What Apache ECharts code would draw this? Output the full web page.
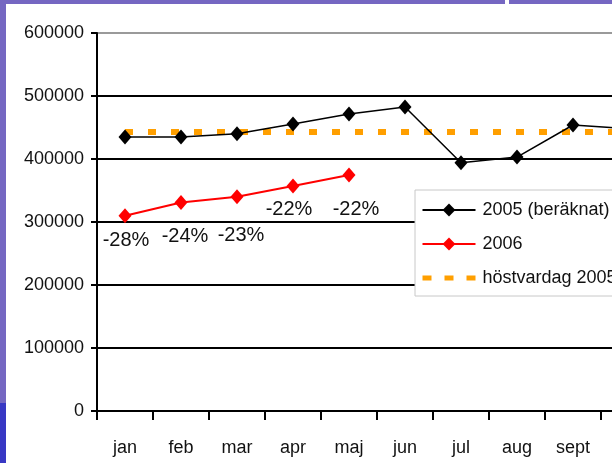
<!DOCTYPE html>
<html>
<head>
<meta charset="utf-8">
<script src="https://cdn.jsdelivr.net/npm/echarts@6/dist/echarts.min.js"></script>
<style>
  html, body { margin: 0; padding: 0; background: #fff; overflow: hidden; }
  #chart { width: 800px; height: 463px; }
</style>
</head>
<body>
<div id="chart"></div>
<script>
// months on the x axis (chart is cut off on the right in the original)
const months = ["jan", "feb", "mar", "apr", "maj", "jun", "jul", "aug", "sept", "okt", "nov", "dec"];
const values2005 = [435000, 435000, 440000, 455500, 471500, 482500, 394000, 403000, 454000, 448000, null, null];
const values2006 = [310000, 331000, 340000, 357000, 374500];
const autumnLevel = [443000, 443000, 443000, 443000, 443000, 443000, 443000, 443000, 443000, 443000, 443000, 443000];
const changeLabels = ["-28%", "-24%", "-23%", "-22%", "-22%"];
const yTicks = [0, 100000, 200000, 300000, 400000, 500000, 600000];

// where each % label sits relative to its point
const labelOffsets = [[1, 25], [4, 34], [4, 39], [-4, 23], [7, 34]];

const font = "'Liberation Sans', Arial, sans-serif";

const redData = values2006.map((v, i) => ({
  value: v,
  label: {
    show: true,
    position: "inside",
    offset: labelOffsets[i],
    formatter: changeLabels[i],
    color: "#111",
    fontSize: 20,
    fontFamily: font
  }
}));

const chart = echarts.init(document.querySelector("#chart"));

chart.setOption({
  animation: false,
  backgroundColor: "#fff",
  graphic: [
    { type: "rect", shape: { x: 0, y: 0, width: 505, height: 4 }, style: { fill: "#7567c2" } },
    { type: "rect", shape: { x: 509, y: 0, width: 300, height: 4 }, style: { fill: "#7567c2" } },
    { type: "rect", shape: { x: 0, y: 0, width: 6, height: 403 }, style: { fill: "#7567c2" } },
    { type: "rect", shape: { x: 0, y: 403, width: 6, height: 60 }, style: { fill: "#3838c4" } }
  ],
  grid: { left: 97, right: 31, top: 33, bottom: 52 },
  legend: {
    orient: "vertical",
    left: 415,
    top: 190,
    padding: [11, 8, 9, 5],
    itemWidth: 53,
    itemHeight: 16,
    itemGap: 16,
    backgroundColor: "#fff",
    borderColor: "#c8c8c8",
    borderWidth: 1,
    borderRadius: 0,
    data: [
      "2005 (beräknat)",
      "2006",
      {
        name: "höstvardag 2005",
        itemStyle: { opacity: 0 },
        lineStyle: { width: 5, type: [9, 13] }
      }
    ],
    textStyle: { fontSize: 18, fontFamily: font, color: "#111", padding: [0, 0, 0, 2] }
  },
  xAxis: {
    type: "category",
    data: months,
    boundaryGap: true,
    axisLine: { lineStyle: { color: "#000", width: 2 } },
    axisTick: { show: true, length: 9, lineStyle: { color: "#000", width: 2 } },
    axisLabel: { color: "#111", fontSize: 18, fontFamily: font, margin: 28 },
    splitLine: { show: false }
  },
  yAxis: {
    type: "value",
    min: 0,
    max: 600000,
    interval: 100000,
    axisLine: { show: true, lineStyle: { color: "#000", width: 2 } },
    axisTick: { show: true, length: 6, lineStyle: { color: "#000", width: 2 } },
    axisLabel: {
      color: "#111", fontSize: 18, fontFamily: font, margin: 13,
      formatter: v => yTicks.includes(v) ? String(v) : ""
    },
    splitLine: {
      show: true,
      lineStyle: { color: ["#000", "#000", "#000", "#000", "#000", "#000", "#9a9a9a"], width: 2 }
    }
  },
  series: [
    {
      name: "höstvardag 2005",
      type: "line",
      data: autumnLevel,
      showSymbol: false,
      symbol: "none",
      z: 1,
      itemStyle: { color: "#ff9f00" },
      lineStyle: { color: "#ff9f00", width: 6, type: [8, 15] }
    },
    {
      name: "2005 (beräknat)",
      type: "line",
      data: values2005,
      symbol: "diamond",
      symbolSize: [13, 15],
      z: 3,
      itemStyle: { color: "#000" },
      lineStyle: { color: "#000", width: 1.5 }
    },
    {
      name: "2006",
      type: "line",
      data: redData,
      symbol: "diamond",
      symbolSize: [13, 15],
      z: 3,
      itemStyle: { color: "#ff0000" },
      lineStyle: { color: "#ff0000", width: 2 }
    }
  ]
});
</script>
</body>
</html>
